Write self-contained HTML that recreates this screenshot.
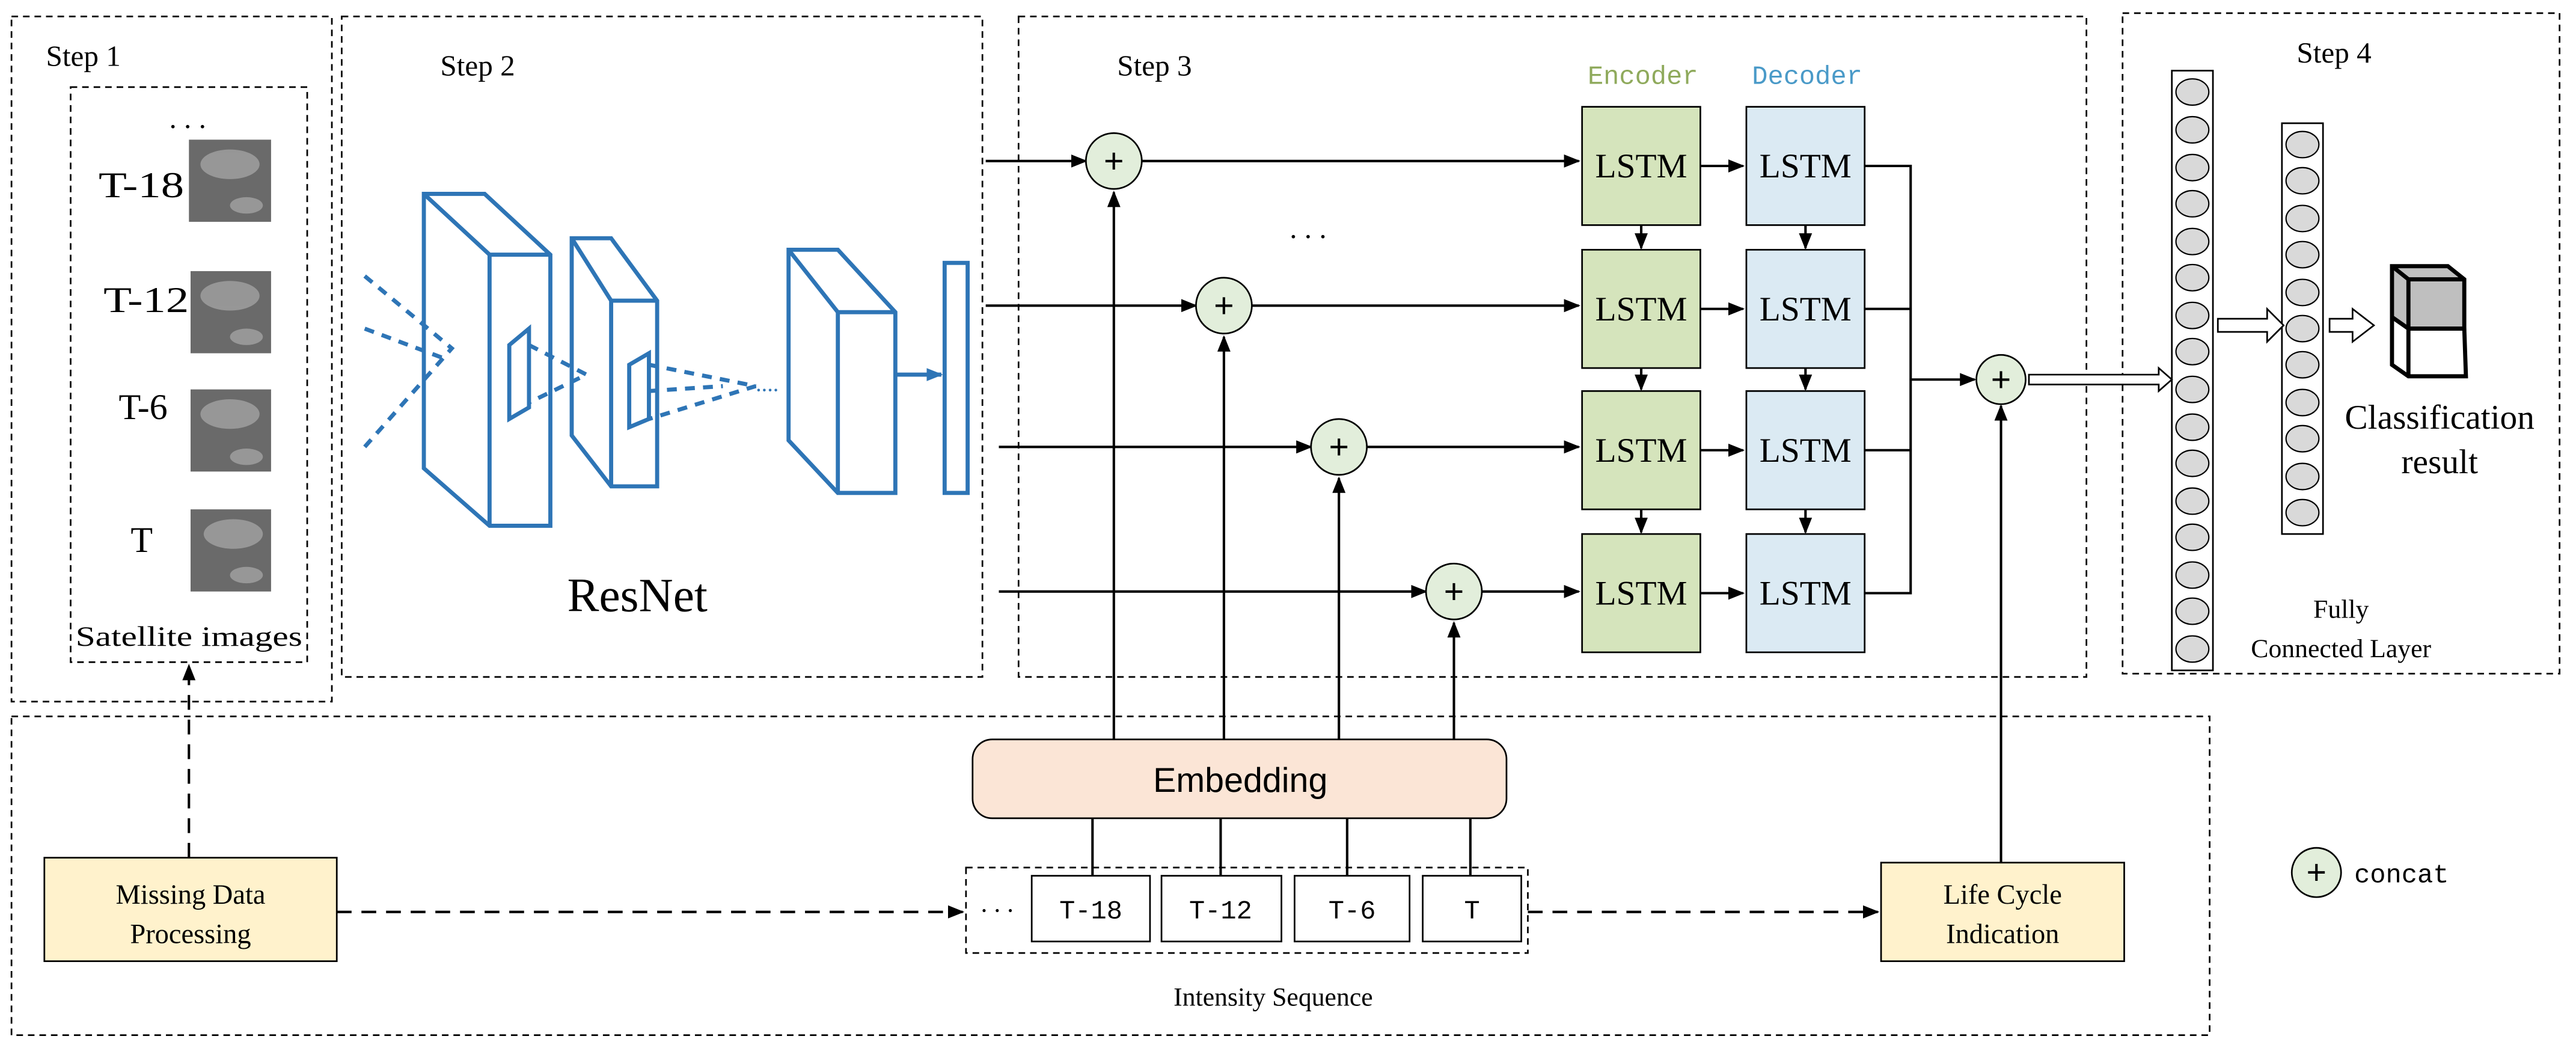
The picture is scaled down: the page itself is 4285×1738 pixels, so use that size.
<!DOCTYPE html>
<html><head><meta charset="utf-8"><style>html,body{margin:0;padding:0;background:#fff}svg{display:block}</style></head><body>
<svg width="4285" height="1738" viewBox="0 0 1568 636" preserveAspectRatio="none" xmlns="http://www.w3.org/2000/svg" font-family="'Liberation Serif',serif">
<defs>
<marker id="a" markerWidth="10" markerHeight="10" refX="9" refY="5" orient="auto" markerUnits="userSpaceOnUse"><path d="M0,1 L10,5 L0,9 Z" fill="#000"/></marker>
<marker id="ab" markerWidth="10" markerHeight="10" refX="9" refY="5" orient="auto" markerUnits="userSpaceOnUse"><path d="M0,1 L10,5 L0,9 Z" fill="#2e75b6"/></marker>
</defs>
<g fill="none" stroke="#000" stroke-width="1" stroke-dasharray="4,3">
<rect x="7" y="10" width="195" height="417"/>
<rect x="43" y="53" width="144" height="350"/>
<rect x="208" y="10" width="390" height="402"/>
<rect x="620" y="10" width="650" height="402"/>
<rect x="1292" y="8" width="266" height="402"/>
<rect x="7" y="436" width="1338" height="194"/>
<rect x="588" y="528" width="342" height="52"/>
</g>
<g font-size="18" fill="#000">
<text x="28" y="40">Step 1</text><text x="268" y="46">Step 2</text><text x="680" y="46">Step 3</text><text x="1398" y="38">Step 4</text>
</g>
<text x="103" y="78" font-size="18">. . .</text>
<g font-size="22" text-anchor="end"><text x="112" y="120" textLength="52" lengthAdjust="spacingAndGlyphs">T-18</text><text x="115" y="190" textLength="52" lengthAdjust="spacingAndGlyphs">T-12</text><text x="102" y="255">T-6</text><text x="93" y="336">T</text></g>
<g fill="#6a6a6a"><rect x="115" y="85" width="50" height="50"/><rect x="116" y="165" width="49" height="50"/><rect x="116" y="237" width="49" height="50"/><rect x="116" y="310" width="49" height="50"/></g>
<g fill="#aaa" opacity="0.7"><ellipse cx="140" cy="100" rx="18" ry="9"/><ellipse cx="140" cy="180" rx="18" ry="9"/><ellipse cx="140" cy="252" rx="18" ry="9"/><ellipse cx="142" cy="325" rx="18" ry="9"/>
<ellipse cx="150" cy="125" rx="10" ry="5"/><ellipse cx="150" cy="205" rx="10" ry="5"/><ellipse cx="150" cy="278" rx="10" ry="5"/><ellipse cx="150" cy="350" rx="10" ry="5"/></g>
<text x="115" y="393" font-size="17" text-anchor="middle" textLength="138" lengthAdjust="spacingAndGlyphs">Satellite images</text>
<!-- ResNet -->
<g fill="none" stroke="#2e75b6" stroke-width="2.5">
<path d="M258,118 L295,118 L335,155 L335,320 L298,320 L258,285 Z M258,118 L298,155 L335,155 M298,155 L298,320"/>
<path d="M348,145 L372,145 L400,183 L400,296 L372,296 L348,265 Z M348,145 L372,183 L400,183 M372,183 L372,296"/>
<path d="M480,152 L510,152 L545,190 L545,300 L510,300 L480,268 Z M480,152 L510,190 L545,190 M510,190 L510,300"/>
<rect x="575" y="160" width="14" height="140"/>
<path d="M310,210 L322,200 L322,248 L310,255 Z"/><path d="M383,222 L395,215 L395,255 L383,260 Z"/>
<line x1="545" y1="228" x2="573" y2="228" marker-end="url(#ab)"/>
</g>
<g fill="none" stroke="#2e75b6" stroke-width="2.5" stroke-dasharray="6,5">
<path d="M222,168 L275,212 L222,272"/><path d="M222,200 L270,218"/>
<path d="M322,210 L357,228 L322,245"/>
<path d="M395,222 L460,235 L395,255"/><path d="M395,238 L440,235"/>
</g>
<text x="460" y="238" font-size="14" fill="#2e75b6">....</text>
<text x="388" y="372" font-size="29" text-anchor="middle">ResNet</text>
<!-- Step 3 -->
<text x="1000" y="51" font-size="16" fill="#8faa5c" text-anchor="middle" font-family="'Liberation Mono',monospace">Encoder</text>
<text x="1100" y="51" font-size="16" fill="#4a9ac8" text-anchor="middle" font-family="'Liberation Mono',monospace">Decoder</text>
<g stroke="#000" stroke-width="1">
<rect x="963" y="65" width="72" height="72" fill="#d5e4bc"/><rect x="963" y="152" width="72" height="72" fill="#d5e4bc"/><rect x="963" y="238" width="72" height="72" fill="#d5e4bc"/><rect x="963" y="325" width="72" height="72" fill="#d5e4bc"/>
<rect x="1063" y="65" width="72" height="72" fill="#dbeaf3"/><rect x="1063" y="152" width="72" height="72" fill="#dbeaf3"/><rect x="1063" y="238" width="72" height="72" fill="#dbeaf3"/><rect x="1063" y="325" width="72" height="72" fill="#dbeaf3"/>
</g>
<g font-size="21" text-anchor="middle">
<text x="999" y="108">LSTM</text><text x="999" y="195">LSTM</text><text x="999" y="281">LSTM</text><text x="999" y="368">LSTM</text>
<text x="1099" y="108">LSTM</text><text x="1099" y="195">LSTM</text><text x="1099" y="281">LSTM</text><text x="1099" y="368">LSTM</text>
</g>
<g stroke="#000" stroke-width="1.5" fill="none">
<line x1="600" y1="98" x2="661" y2="98" marker-end="url(#a)"/><line x1="695" y1="98" x2="961" y2="98" marker-end="url(#a)"/>
<line x1="600" y1="186" x2="728" y2="186" marker-end="url(#a)"/><line x1="762" y1="186" x2="961" y2="186" marker-end="url(#a)"/>
<line x1="608" y1="272" x2="798" y2="272" marker-end="url(#a)"/><line x1="832" y1="272" x2="961" y2="272" marker-end="url(#a)"/>
<line x1="608" y1="360" x2="868" y2="360" marker-end="url(#a)"/><line x1="902" y1="360" x2="961" y2="360" marker-end="url(#a)"/>
<line x1="1035" y1="101" x2="1061" y2="101" marker-end="url(#a)"/><line x1="1035" y1="188" x2="1061" y2="188" marker-end="url(#a)"/><line x1="1035" y1="274" x2="1061" y2="274" marker-end="url(#a)"/><line x1="1035" y1="361" x2="1061" y2="361" marker-end="url(#a)"/>
<line x1="999" y1="137" x2="999" y2="151" marker-end="url(#a)"/><line x1="999" y1="224" x2="999" y2="237" marker-end="url(#a)"/><line x1="999" y1="310" x2="999" y2="324" marker-end="url(#a)"/>
<line x1="1099" y1="137" x2="1099" y2="151" marker-end="url(#a)"/><line x1="1099" y1="224" x2="1099" y2="237" marker-end="url(#a)"/><line x1="1099" y1="310" x2="1099" y2="324" marker-end="url(#a)"/>
<path d="M1135,101 H1163 V361 H1135 M1135,188 H1163 M1135,274 H1163"/>
<line x1="1163" y1="231" x2="1202" y2="231" marker-end="url(#a)"/>
<line x1="678" y1="450" x2="678" y2="117" marker-end="url(#a)"/><line x1="745" y1="450" x2="745" y2="205" marker-end="url(#a)"/>
<line x1="815" y1="450" x2="815" y2="291" marker-end="url(#a)"/><line x1="885" y1="450" x2="885" y2="379" marker-end="url(#a)"/>
<line x1="1218" y1="525" x2="1218" y2="247" marker-end="url(#a)"/>
<line x1="665" y1="498" x2="665" y2="533"/><line x1="743" y1="498" x2="743" y2="533"/><line x1="820" y1="498" x2="820" y2="533"/><line x1="895" y1="498" x2="895" y2="533"/>
</g>
<g stroke="#000" stroke-width="1.5" fill="none" stroke-dasharray="9,6">
<line x1="205" y1="555" x2="586" y2="555" marker-end="url(#a)"/>
<line x1="930" y1="555" x2="1143" y2="555" marker-end="url(#a)"/>
<line x1="115" y1="522" x2="115" y2="405" marker-end="url(#a)"/>
</g>
<text x="785" y="145" font-size="18">. . .</text>
<g stroke="#000" stroke-width="1" fill="#e2eedb">
<circle cx="678" cy="98" r="17"/><circle cx="745" cy="186" r="17"/><circle cx="815" cy="272" r="17"/><circle cx="885" cy="360" r="17"/><circle cx="1218" cy="231" r="15"/><circle cx="1410" cy="531" r="15"/>
</g>
<g font-size="21" text-anchor="middle" font-family="'Liberation Sans',sans-serif"><text x="678" y="105">+</text><text x="745" y="193">+</text><text x="815" y="279">+</text><text x="885" y="367">+</text><text x="1218" y="238">+</text><text x="1410" y="538">+</text></g>
<text x="1433" y="537" font-size="16" font-family="'Liberation Mono',monospace">concat</text>
<!-- bottom -->
<rect x="592" y="450" width="325" height="48" rx="12" fill="#fbe5d6" stroke="#000" stroke-width="1"/>
<text x="755" y="482" font-size="21" text-anchor="middle" font-family="'Liberation Sans',sans-serif">Embedding</text>
<g stroke="#000" stroke-width="1" fill="#fff"><rect x="628" y="533" width="72" height="40"/><rect x="707" y="533" width="73" height="40"/><rect x="788" y="533" width="70" height="40"/><rect x="866" y="533" width="60" height="40"/></g>
<g font-size="16" text-anchor="middle" font-family="'Liberation Mono',monospace"><text x="664" y="559">T-18</text><text x="743" y="559">T-12</text><text x="823" y="559">T-6</text><text x="896" y="559">T</text></g>
<text x="597" y="555" font-size="16">. . .</text>
<text x="775" y="612" font-size="16" text-anchor="middle">Intensity Sequence</text>
<rect x="27" y="522" width="178" height="63" fill="#fff2cc" stroke="#000" stroke-width="1"/>
<text x="116" y="550" font-size="17" text-anchor="middle">Missing Data</text><text x="116" y="574" font-size="17" text-anchor="middle">Processing</text>
<rect x="1145" y="525" width="148" height="60" fill="#fff2cc" stroke="#000" stroke-width="1"/>
<text x="1219" y="550" font-size="17" text-anchor="middle">Life Cycle</text><text x="1219" y="574" font-size="17" text-anchor="middle">Indication</text>
<!-- step 4 -->
<g stroke="#000" stroke-width="1" fill="#fff">
<rect x="1322" y="43" width="25" height="365"/><rect x="1389" y="75" width="25" height="250"/>
<path d="M1235,228 H1314 V224 L1322,231 L1314,238 V234 H1235 Z"/>
<path d="M1350,194 H1380 V188 L1390,198 L1380,208 V202 H1350 Z"/>
<path d="M1418,194 H1432 V188 L1445,198 L1432,208 V202 H1418 Z"/>
</g>
<g stroke="#000" stroke-width="0.8" fill="#d9d9d9">
<ellipse cx="1334.5" cy="56" rx="10" ry="8"/><ellipse cx="1334.5" cy="79" rx="10" ry="8"/><ellipse cx="1334.5" cy="102" rx="10" ry="8"/><ellipse cx="1334.5" cy="124" rx="10" ry="8"/><ellipse cx="1334.5" cy="147" rx="10" ry="8"/><ellipse cx="1334.5" cy="169" rx="10" ry="8"/><ellipse cx="1334.5" cy="192" rx="10" ry="8"/><ellipse cx="1334.5" cy="214" rx="10" ry="8"/><ellipse cx="1334.5" cy="237" rx="10" ry="8"/><ellipse cx="1334.5" cy="260" rx="10" ry="8"/><ellipse cx="1334.5" cy="282" rx="10" ry="8"/><ellipse cx="1334.5" cy="305" rx="10" ry="8"/><ellipse cx="1334.5" cy="327" rx="10" ry="8"/><ellipse cx="1334.5" cy="350" rx="10" ry="8"/><ellipse cx="1334.5" cy="372" rx="10" ry="8"/><ellipse cx="1334.5" cy="395" rx="10" ry="8"/>
<ellipse cx="1401.5" cy="88" rx="10" ry="8"/><ellipse cx="1401.5" cy="110" rx="10" ry="8"/><ellipse cx="1401.5" cy="133" rx="10" ry="8"/><ellipse cx="1401.5" cy="155" rx="10" ry="8"/><ellipse cx="1401.5" cy="178" rx="10" ry="8"/><ellipse cx="1401.5" cy="200" rx="10" ry="8"/><ellipse cx="1401.5" cy="222" rx="10" ry="8"/><ellipse cx="1401.5" cy="245" rx="10" ry="8"/><ellipse cx="1401.5" cy="267" rx="10" ry="8"/><ellipse cx="1401.5" cy="290" rx="10" ry="8"/><ellipse cx="1401.5" cy="312" rx="10" ry="8"/>
</g>
<g stroke="#000" stroke-width="2.5">
<path d="M1456,162 L1490,162 L1500,170 L1500,200 L1466,200 L1456,193 Z" fill="#bfbfbf"/>
<path d="M1456,162 L1466,170 L1500,170 M1466,170 L1466,200" fill="none"/>
<path d="M1456,193 L1466,200 L1500,200 L1501,229 L1466,229 L1456,222 Z" fill="#fff"/>
<line x1="1466" y1="200" x2="1466" y2="229"/>
</g>
<text x="1485" y="261" font-size="21" text-anchor="middle">Classification</text><text x="1485" y="288" font-size="21" text-anchor="middle">result</text>
<text x="1425" y="376" font-size="16" text-anchor="middle">Fully</text><text x="1425" y="400" font-size="16" text-anchor="middle">Connected Layer</text>
</svg>
</body></html>
